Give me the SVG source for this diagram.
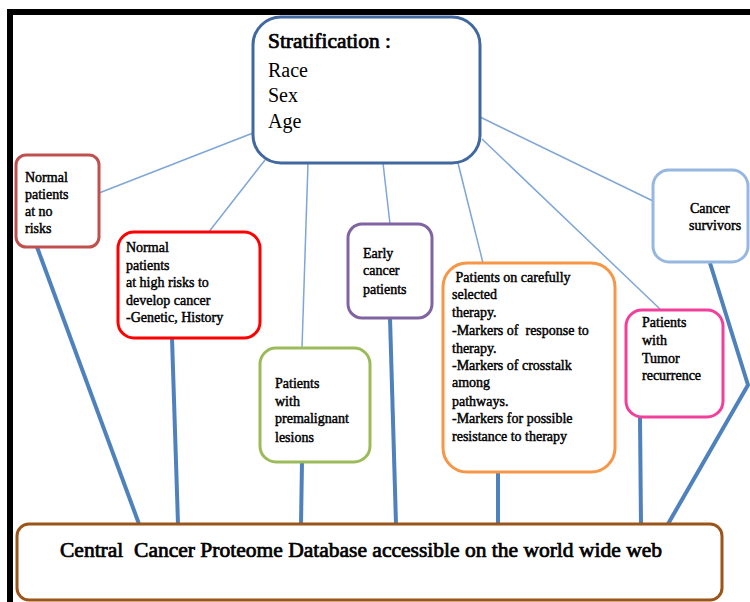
<svg xmlns="http://www.w3.org/2000/svg" width="750" height="602" viewBox="0 0 750 602">
<style>
.box{fill:#ffffff;stroke-width:3}
.t{font-family:"Liberation Serif","Times New Roman",serif;font-size:14px;fill:#000;stroke:#000;stroke-width:0.45}
.s{font-family:"Liberation Serif","Times New Roman",serif;fill:#000}
.thin{stroke:#7ea6d6;stroke-width:1.5;fill:none}
.thick{stroke:#4f81bd;stroke-width:4;fill:none;stroke-linejoin:round}
</style>
<rect width="750" height="602" fill="#ffffff"/>
<path d="M10,602 V12 H750" fill="none" stroke="#000" stroke-width="6"/>
<g id="connectors">
<line class="thin" x1="253" y1="133" x2="99" y2="193"/>
<line class="thin" x1="265" y1="160" x2="208" y2="233"/>
<line class="thin" x1="308" y1="163" x2="302" y2="348"/>
<line class="thin" x1="383" y1="163" x2="390" y2="224"/>
<line class="thin" x1="458" y1="163" x2="483" y2="263"/>
<line class="thin" x1="482" y1="139" x2="661" y2="310"/>
<line class="thin" x1="480" y1="117" x2="653" y2="201"/>
<line class="thick" x1="37" y1="247" x2="139" y2="524"/>
<line class="thick" x1="172" y1="338" x2="178" y2="524"/>
<line class="thick" x1="302" y1="462" x2="301" y2="524"/>
<line class="thick" x1="390" y1="318" x2="396" y2="524"/>
<line class="thick" x1="498" y1="472" x2="498" y2="524"/>
<line class="thick" x1="640" y1="417" x2="641" y2="524"/>
<polyline class="thick" points="710,263 748,385 668,524"/>
</g>
<g id="stratification">
<rect class="box" x="253" y="17" width="227" height="146" rx="28" stroke="#41689f"/>
<text class="s" x="268" y="48" font-size="20" stroke="#000" stroke-width="0.7" textLength="123" lengthAdjust="spacingAndGlyphs">Stratification :</text>
<text class="s" x="268" y="77" font-size="20">Race</text>
<text class="s" x="268" y="102" font-size="20">Sex</text>
<text class="s" x="268" y="128" font-size="20">Age</text>
</g>
<g id="no-risk">
<rect class="box" x="16" y="155" width="83" height="92" rx="10" stroke="#c0504d"/>
<text class="t" x="25" y="182">Normal</text>
<text class="t" x="25" y="199">patients</text>
<text class="t" x="25" y="216">at no</text>
<text class="t" x="25" y="233">risks</text>
</g>
<g id="high-risk">
<rect class="box" x="118" y="232" width="142" height="106" rx="16" stroke="#ff0000"/>
<text class="t" x="126" y="252">Normal</text>
<text class="t" x="126" y="269.5">patients</text>
<text class="t" x="126" y="287">at high risks to</text>
<text class="t" x="126" y="304.5">develop cancer</text>
<text class="t" x="126" y="322">-Genetic, History</text>
</g>
<g id="premalignant">
<rect class="box" x="260" y="348" width="110" height="114" rx="16" stroke="#9bbb59"/>
<text class="t" x="275" y="388">Patients</text>
<text class="t" x="275" y="406">with</text>
<text class="t" x="275" y="423">premalignant</text>
<text class="t" x="275" y="442">lesions</text>
</g>
<g id="early-cancer">
<rect class="box" x="348" y="224" width="84" height="94" rx="14" stroke="#8064a2"/>
<text class="t" x="363" y="258">Early</text>
<text class="t" x="363" y="275">cancer</text>
<text class="t" x="363" y="294">patients</text>
</g>
<g id="therapy">
<rect class="box" x="443" y="263" width="172" height="209" rx="24" stroke="#f79646"/>
<text class="t" x="452" y="282" xml:space="preserve"> Patients on carefully</text>
<text class="t" x="452" y="299">selected</text>
<text class="t" x="452" y="317">therapy.</text>
<text class="t" x="452" y="335" xml:space="preserve">-Markers of  response to</text>
<text class="t" x="452" y="353">therapy.</text>
<text class="t" x="452" y="370">-Markers of crosstalk</text>
<text class="t" x="452" y="387">among</text>
<text class="t" x="452" y="406">pathways.</text>
<text class="t" x="452" y="423">-Markers for possible</text>
<text class="t" x="452" y="441">resistance to therapy</text>
</g>
<g id="tumor-recurrence">
<rect class="box" x="626" y="310" width="97" height="107" rx="16" stroke="#f23f9c"/>
<text class="t" x="642" y="327">Patients</text>
<text class="t" x="642" y="345">with</text>
<text class="t" x="642" y="363">Tumor</text>
<text class="t" x="642" y="380">recurrence</text>
</g>
<g id="survivors">
<rect class="box" x="653" y="170" width="95" height="92" rx="16" stroke="#95b7e0"/>
<text class="t" x="690" y="213">Cancer</text>
<text class="t" x="689" y="230">survivors</text>
</g>
<g id="database">
<rect class="box" x="17" y="524" width="705" height="76" rx="12" stroke="#9c5519"/>
<text class="s" x="60" y="557" font-size="20" stroke="#000" stroke-width="0.7" textLength="602" lengthAdjust="spacingAndGlyphs" xml:space="preserve">Central  Cancer Proteome Database accessible on the world wide web</text>
</g>
</svg>
